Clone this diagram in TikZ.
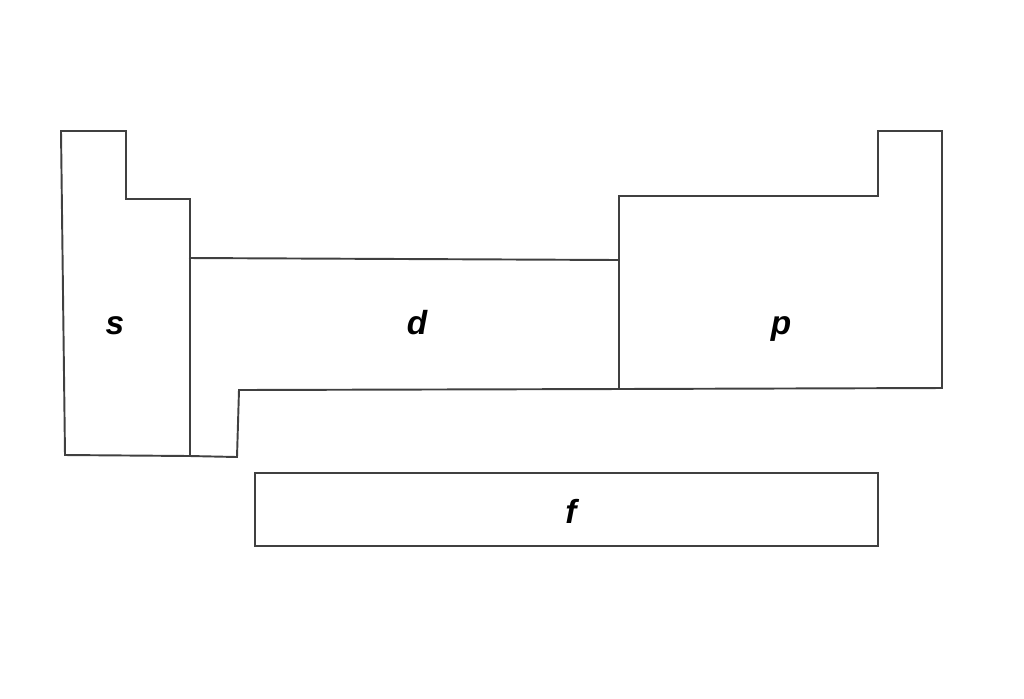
\documentclass[tikz,border=0pt]{standalone}
\usepackage{fontspec}
\setmainfont{Liberation Sans}
\tikzset{
	block/.style={draw=black!75,line width=1.1pt,line join=miter},
	blocklabel/.style={anchor=base,inner sep=0pt,font=\fontsize{19}{22}\selectfont\bfseries\itshape}
}

\begin{document}
\begin{tikzpicture}[x=0.02cm,y=-0.02cm]
\useasboundingbox (0,0) rectangle (1024,698);

% S BLOCK
\draw[block] (61,131) -- (126,131) -- (126,199) -- (190,199) -- (190,456) -- (65,455) -- cycle;
\node[blocklabel] (s) at (115,334) {s};

% D BLOCK
\draw[block] (189,258) -- (619,260) -- (619,389) -- (239,390) -- (237,457) -- (190,456);
\node[blocklabel] (d) at (417,334) {d};

% P BLOCK
\draw[block] (619,196) -- (878,196) -- (878,131) -- (942,131) -- (942,388) -- (619,389) -- cycle;
\node[blocklabel] (p) at (781,334) {p};

% F BLOCK
\draw[block] (255,473) rectangle (878,546);
\node[blocklabel] (f) at (571,523) {f};

\end{tikzpicture}
\end{document}
